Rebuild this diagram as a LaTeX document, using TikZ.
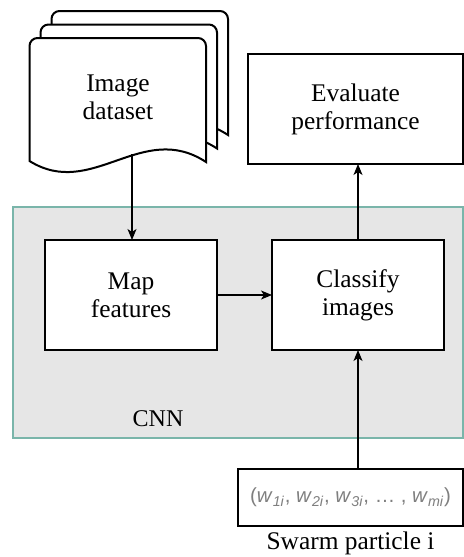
\documentclass[tikz,border=0pt]{standalone}
\usepackage{fontspec}
\setmainfont{Liberation Serif}
\newfontfamily\formfont{Liberation Sans}
\usetikzlibrary{arrows.meta}
\definecolor{cnnfill}{HTML}{E6E6E6}
\definecolor{cnnline}{HTML}{7AB5AA}
\definecolor{wgray}{HTML}{7F7F7F}
% weight symbol with italic subscript
\newcommand{\wv}[1]{\textit{w}\textsubscript{\itshape #1}}

\begin{document}
\begin{tikzpicture}[x=0.5pt,y=-0.5pt,
  txt/.style={font=\fontsize{12.7}{14}\selectfont, align=center},
  box/.style={txt, draw=black, line width=0.65pt, fill=white, inner sep=0pt, outer sep=0pt},
  flow/.style={-{Stealth[length=5.5pt,width=4.5pt,inset=1.5pt]}, line width=0.6pt},
  page/.style={draw=black, line width=1pt, fill=white, rounded corners=4pt}
]
\useasboundingbox (0,0) rectangle (464,557);

% stacked document pages (back to front)
\foreach \k in {2,1,0}{
  \begin{scope}[shift={(11*\k,-13.5*\k)}]
    \draw[page] (29.5,161) -- (29.5,38) -- (206,38) [sharp corners] -- (206,162)
      .. controls (142,120) and (92,200) .. (29.5,161) -- cycle;
  \end{scope}
}
\node[txt] (doc) at (118,97) {Image\\dataset};
\coordinate (docout) at (132,154);

% CNN container
\node[draw=cnnline, fill=cnnfill, line width=0.6pt, minimum width=225pt, minimum height=115.5pt,
      inner sep=0pt, outer sep=0pt] (cnn) at (238,322.5) {};
\node[txt, font=\fontsize{12}{14}\selectfont] (cnnlbl) at (158,419) {CNN};

% process boxes
\node[box, minimum width=86pt, minimum height=55pt] (map) at (131,295) {Map\\features};
\node[box, minimum width=86pt, minimum height=55pt] (cls) at (358,295) {Classify\\images};
\node[box, minimum width=107.5pt, minimum height=55pt] (eval) at (355.5,109) {Evaluate\\performance};

% swarm particle
\node[box, minimum width=112.5pt, minimum height=28.5pt,
      font=\formfont\fontsize{10.2}{12}\selectfont, text=wgray] (swarm) at (350.5,497.5)
      {(\wv{1i}, \wv{2i}, \wv{3i}, \dots\ , \wv{mi})};
\node[txt] (swlbl) at (350.5,543) {Swarm particle i};

% connectors
\draw[flow] (docout) -- (docout |- map.north);
\draw[flow] (map.east) -- (cls.west);
\draw[flow] (cls.north) -- (cls.north |- eval.south);
\draw[flow] (cls.south |- swarm.north) -- (cls.south);
\end{tikzpicture}
\end{document}
